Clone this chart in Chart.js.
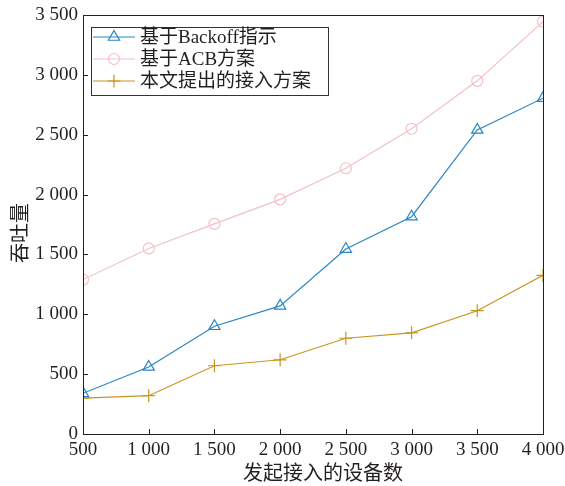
<!DOCTYPE html>
<html>
<head>
<meta charset="utf-8">
<script src="https://cdn.jsdelivr.net/npm/chart.js@4.4.1/dist/chart.umd.min.js"></script>
<style>
html, body { margin: 0; padding: 0; background: #fff; }
#wrap { width: 565px; height: 486px; }
</style>
</head>
<body>
<div id="wrap"><canvas id="chart" width="565" height="486"></canvas></div>
<script>
// data
const devices = [500, 1000, 1500, 2000, 2500, 3000, 3500, 4000];
const backoff = [340, 560, 900, 1070, 1545, 1815, 2540, 2805];
const acb = [1290, 1550, 1755, 1960, 2220, 2550, 2950, 3445];
const proposed = [300, 320, 570, 620, 800, 845, 1030, 1325];

const seriesNames = ['基于Backoff指示', '基于ACB方案', '本文提出的接入方案'];
const xTickLabels = ['500', '1 000', '1 500', '2 000', '2 500', '3 000', '3 500', '4 000'];
const yTickLabels = ['0', '500', '1 000', '1 500', '2 000', '2 500', '3 000', '3 500'];
const xTitle = '发起接入的设备数';
const yTitle = '吞吐量';

const serif = '"Liberation Serif", "Noto Sans CJK SC", serif';
const ink = '#231f20';

const pts = (ys) => ys.map((y, i) => ({ x: devices[i], y: y }));

const series = (label, d, color, style, r) => ({
    label,
    data: pts(d),
    borderColor: color,
    backgroundColor: 'rgba(0,0,0,0)',
    pointBorderColor: color,
    pointBackgroundColor: 'rgba(0,0,0,0)',
    pointStyle: style,
    pointRadius: r,
    pointBorderWidth: 1.2,
    borderWidth: 1.2,
    tension: 0,
    fill: false
});

// frame, inward ticks, axis titles and a line+marker legend
const decor = {
    id: 'decor',
    afterDraw(chart) {
        const ctx = chart.ctx;
        const a = chart.chartArea;
        const xs = chart.scales.x, ys = chart.scales.y;
        ctx.save();
        ctx.strokeStyle = ink;
        ctx.lineWidth = 1;
        ctx.strokeRect(a.left + 0.5, a.top + 0.5, a.right - a.left, a.bottom - a.top);
        ctx.beginPath();
        devices.forEach(v => {
            const px = Math.round(xs.getPixelForValue(v)) + 0.5;
            ctx.moveTo(px, a.bottom);
            ctx.lineTo(px, a.bottom - 5);
        });
        for (let v = 0; v <= 3500; v += 500) {
            const py = Math.round(ys.getPixelForValue(v)) + 0.5;
            ctx.moveTo(a.left, py);
            ctx.lineTo(a.left + 5, py);
        }
        ctx.stroke();

        ctx.fillStyle = ink;
        ctx.font = '20px ' + serif;
        ctx.textAlign = 'center';
        ctx.textBaseline = 'middle';
        ctx.fillText(xTitle, 323, 475);
        ctx.translate(22, 233);
        ctx.rotate(-Math.PI / 2);
        ctx.fillText(yTitle, 0, 0);
        ctx.restore();

        // legend
        ctx.save();
        ctx.fillStyle = '#fff';
        ctx.fillRect(91, 27, 237, 68);
        ctx.strokeStyle = '#333';
        ctx.lineWidth = 1;
        ctx.strokeRect(91.5, 27.5, 237, 68);
        chart.data.datasets.forEach((ds, i) => {
            const y = 37 + i * 22;
            ctx.strokeStyle = ds.borderColor;
            ctx.lineWidth = 1.2;
            ctx.beginPath();
            ctx.moveTo(93, y);
            ctx.lineTo(135, y);
            ctx.stroke();
            ctx.fillStyle = 'rgba(0,0,0,0)';
            Chart.helpers.drawPoint(ctx, {
                pointStyle: ds.pointStyle,
                radius: ds.pointRadius,
                borderWidth: 1.2,
                rotation: 0
            }, 114, y);
            ctx.fillStyle = ink;
            ctx.font = '19px ' + serif;
            ctx.textAlign = 'left';
            ctx.textBaseline = 'middle';
            ctx.fillText(ds.label, 140, y + 1);
        });
        ctx.restore();
    }
};

new Chart(document.getElementById('chart'), {
    type: 'line',
    data: {
        datasets: [
            series(seriesNames[0], backoff, '#2a86c3', 'triangle', 6.5),
            series(seriesNames[1], acb, '#f2c1c6', 'circle', 5.5),
            series(seriesNames[2], proposed, '#c8961f', 'cross', 6.5)
        ]
    },
    options: {
        responsive: false,
        animation: false,
        devicePixelRatio: 1,
        layout: { padding: { top: 15, right: 22, left: 0, bottom: 0 } },
        plugins: {
            legend: { display: false },
            tooltip: { enabled: false }
        },
        scales: {
            x: {
                type: 'linear',
                min: 500,
                max: 4000,
                afterFit: s => { s.height = 52; s.paddingRight = 0; s.paddingLeft = 0; },
                afterBuildTicks: s => { s.ticks = devices.map(v => ({ value: v })); },
                grid: { display: false, drawTicks: false },
                border: { display: false },
                ticks: {
                    padding: 5,
                    maxRotation: 0,
                    autoSkip: false,
                    color: ink,
                    font: { family: serif, size: 19 },
                    callback: (v) => xTickLabels[devices.indexOf(v)]
                }
            },
            y: {
                min: 0,
                max: 3500,
                afterFit: s => { s.width = 83; s.paddingTop = 0; s.paddingBottom = 0; },
                grid: { display: false, drawTicks: false },
                border: { display: false },
                ticks: {
                    stepSize: 500,
                    padding: 5,
                    color: ink,
                    font: { family: serif, size: 19 },
                    callback: (v) => yTickLabels[v / 500]
                }
            }
        }
    },
    plugins: [decor]
});
</script>
</body>
</html>
